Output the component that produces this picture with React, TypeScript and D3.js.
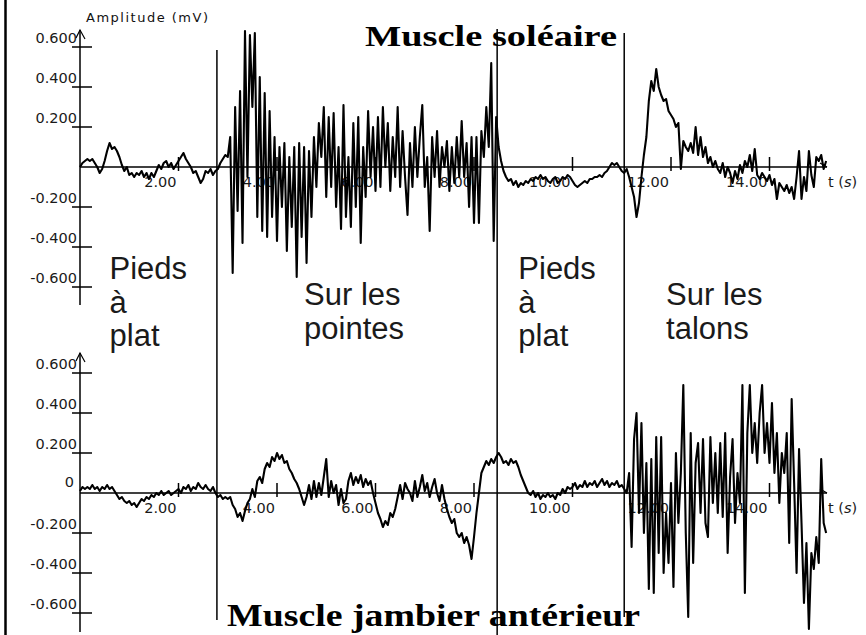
import React from "react";
import * as d3 from "d3";

// sampling step of the recorded EMG traces (s)
const timeStep = 0.05;

// Muscle soléaire (mV), one row per second
const soleaire = [
  0, 0.02, 0.03, 0.04, 0.03, 0.04, 0.02, 0, -0.03, -0.01, 0.03, 0.08, 0.12, 0.09, 0.1, 0.08, 0.05, 0.01, -0.02, 0,
  -0.04, -0.03, -0.05, -0.03, -0.04, -0.02, -0.05, -0.03, -0.06, -0.03, -0.05, -0.02, 0.01, -0.01, 0.02, 0.03, 0, 0.02, -0.01, 0.01,
  0.03, 0.05, 0.07, 0.04, 0.02, 0, -0.03, -0.02, -0.05, -0.08, -0.06, -0.02, -0.03, -0.01, -0.04, -0.02, -0.01, 0.02, 0.04, 0.06,
  0.05, 0.15, -0.53, 0.3, -0.22, 0.38, -0.38, 0.68, -0.05, 0.66, 0.3, 0.67, -0.25, 0.45, -0.32, 0.37, -0.35, 0.28, -0.25, 0.15,
  -0.37, 0.1, -0.2, 0.12, -0.42, 0.05, -0.3, 0.1, -0.55, 0.12, -0.35, 0.1, -0.48, 0.08, -0.25, 0.15, -0.1, 0.22, 0.05, 0.3,
  -0.15, 0.25, -0.1, 0.27, -0.2, 0.1, -0.31, 0.31, -0.25, 0.05, -0.3, 0.22, -0.2, 0.25, -0.38, 0.1, -0.15, 0.28, -0.05, 0.2,
  -0.12, 0.25, -0.1, 0.3, 0, 0.22, -0.12, 0.15, -0.05, 0.3, -0.1, 0.18, -0.05, -0.24, 0.12, -0.1, 0.2, -0.05, 0.15, 0.31,
  -0.1, 0.05, -0.32, 0.15, -0.05, 0.18, -0.1, 0.1, 0, 0.13, -0.12, 0.1, -0.08, 0.15, -0.05, 0.23, -0.05, 0.12, -0.2, 0.15,
  -0.28, 0.15, -0.28, 0.18, 0.05, 0.3, 0.1, 0.52, -0.37, 0.25, 0.1, 0.03, -0.02, -0.05, -0.07, -0.06, -0.09, -0.07, -0.1, -0.08,
  -0.09, -0.07, -0.08, -0.06, -0.07, -0.05, -0.06, -0.04, -0.06, -0.05, -0.07, -0.08, -0.06, -0.05, -0.08, -0.07, -0.05, -0.06, -0.04, -0.05,
  -0.07, -0.09, -0.1, -0.09, -0.08, -0.07, -0.08, -0.06, -0.06, -0.05, -0.05, -0.04, -0.05, -0.03, -0.02, 0, 0.02, 0.01, 0.02, 0,
  -0.02, -0.03, -0.01, -0.05, -0.1, -0.15, -0.25, -0.18, -0.05, 0.06, 0.15, 0.33, 0.43, 0.38, 0.49, 0.4, 0.36, 0.33, 0.34, 0.28,
  0.26, 0.24, 0.2, 0.22, -0.01, 0.13, 0.1, 0.08, 0.12, 0.07, 0.2, 0.06, 0.15, 0.05, 0.1, 0.02, 0.05, 0, 0.03, -0.01,
  -0.03, 0.02, -0.05, 0, -0.03, -0.08, -0.02, -0.06, 0.01, -0.03, 0.03, 0, 0.06, -0.02, 0.09, -0.04, -0.06, -0.03, -0.05, -0.07,
  -0.04, -0.09, -0.06, -0.16, -0.08, -0.1, -0.12, -0.09, -0.13, -0.1, -0.16, -0.05, 0.08, -0.16, -0.05, -0.12, 0.08, -0.04, -0.1, 0.05,
  0.03, 0.06, -0.01, 0.03,
];

// Muscle jambier antérieur (mV)
const jambier = [
  0.01, 0.03, 0.02, 0.03, 0.02, 0.04, 0.02, 0.03, 0.01, 0.03, 0.02, 0.04, 0.02, 0.03, 0.01, -0.01, -0.03, -0.02, -0.04, -0.05,
  -0.04, -0.06, -0.05, -0.07, -0.05, -0.03, -0.04, -0.02, -0.03, -0.01, -0.02, 0, -0.01, 0.01, -0.01, 0, 0.01, -0.01, 0, 0.01,
  0.02, 0, 0.03, 0.02, 0.04, 0.01, 0.03, 0.02, 0.05, 0.03, 0.02, 0.04, 0.02, 0.01, 0.03, 0, -0.02, -0.01, -0.03, -0.02,
  -0.03, -0.02, -0.06, -0.08, -0.12, -0.1, -0.14, -0.09, -0.05, -0.03, 0.02, -0.02, 0.06, 0.08, 0.05, 0.12, 0.15, 0.13, 0.18, 0.16,
  0.2, 0.17, 0.19, 0.15, 0.16, 0.12, 0.1, 0.07, 0.05, 0.02, -0.02, -0.06, -0.02, 0.04, -0.03, 0.06, -0.02, 0.05, -0.01, 0.08,
  0.17, -0.02, 0.06, 0, 0.04, -0.06, 0.02, -0.05, -0.03, 0.06, 0.1, 0.04, 0.08, 0.05, 0.09, 0.03, 0.07, 0.04, 0.06, 0,
  -0.05, -0.1, -0.13, -0.17, -0.14, -0.16, -0.1, -0.12, -0.08, -0.02, 0.04, -0.03, 0.05, 0.02, 0, -0.04, 0.06, -0.02, 0.03, 0.09,
  0.01, 0.05, -0.02, 0.03, 0.07, 0, -0.04, 0.04, -0.03, -0.08, -0.12, -0.15, -0.13, -0.2, -0.22, -0.2, -0.25, -0.22, -0.26, -0.33,
  -0.22, -0.1, 0, 0.1, 0.13, 0.16, 0.14, 0.17, 0.15, 0.18, 0.2, 0.18, 0.15, 0.16, 0.14, 0.17, 0.15, 0.16, 0.13, 0.09,
  0.06, 0.03, 0, -0.01, 0.01, -0.02, 0, -0.03, -0.01, -0.02, 0, -0.02, -0.01, -0.03, 0, -0.01, 0.02, 0, 0.03, 0.02,
  0.03, 0.05, 0.02, 0.04, 0.03, 0.06, 0.03, 0.05, 0.04, 0.06, 0.03, 0.05, 0.07, 0.04, 0.06, 0.03, 0.05, 0.04, 0.06, 0.03,
  0.04, 0.02, 0, 0.1, -0.27, 0.27, 0.4, -0.1, 0.35, -0.2, 0.15, -0.48, 0.17, -0.5, 0.28, -0.3, 0.28, -0.4, -0.1, -0.35,
  0.05, -0.47, 0.2, -0.15, 0.1, 0.54, -0.2, -0.62, 0.3, -0.35, 0.15, 0.25, -0.1, 0.27, -0.15, -0.22, 0.28, -0.05, 0.2, -0.1,
  0.25, -0.12, 0.3, -0.3, 0.08, 0.27, -0.15, 0.1, -0.05, 0.54, -0.5, 0.3, 0.54, 0.2, 0.35, 0.15, 0.4, 0.54, 0.2, 0.35,
  0.15, 0.45, 0.1, 0.3, -0.05, 0.2, 0.1, 0.3, -0.25, 0.47, 0.05, -0.4, 0.22, -0.15, -0.55, -0.25, -0.68, -0.3, -0.38, -0.22,
  -0.35, 0.17, -0.15, -0.2,
];

const yTicks = [0.6, 0.4, 0.2, -0.2, -0.4, -0.6];
const yTickLabels = ["0.600", "0.400", "0.200", "-0.200", "-0.400", "-0.600"];
const xTicks = [2, 4, 6, 8, 10, 12, 14];
const xTickLabels = ["2.00", "4.00", "6.00", "8.00", "10.00", "12.00", "14.00"];
const phaseChanges = [2.78, 8.47, 11.05];
const phaseLabels = [["Pieds", "à", "plat"], ["Sur les", "pointes"], ["Pieds", "à", "plat"], ["Sur les", "talons"]];

const W = 866;
const H = 635;
const tickFont = "'DejaVu Sans', Verdana, sans-serif";
const x = d3.scaleLinear().domain([0, 15.2]).range([80, 828.6]);

interface PanelProps {
  data: number[];
  y: d3.ScaleLinear<number, number>;
  axisTop: number;
  axisBottom: number;
  showZero: boolean;
}

function Panel({data, y, axisTop, axisBottom, showZero}: PanelProps) {
  const x0 = x(0);
  const zero = y(0);
  const line = d3.line<number>()
    .x((_, i) => x(i * timeStep))
    .y(d => y(d));
  const yTopPx = y(axisTop);
  const xEnd = 827;
  return (
    <g>
      {/* y axis */}
      <line x1={x0} x2={x0} y1={yTopPx} y2={y(axisBottom)} stroke="#000" strokeWidth={1.5}/>
      <path d={`M${x0 - 4},${yTopPx + 8}L${x0},${yTopPx}L${x0 + 5},${yTopPx + 9}`} fill="none" stroke="#000" strokeWidth={1.2}/>
      {yTicks.map((v, i) => (
        <g key={i}>
          <line x1={x0 - 8} x2={x0 + 12} y1={y(v)} y2={y(v)} stroke="#000" strokeWidth={1.5}/>
          <text x={77} y={y(v) - 4} textAnchor="end" fontFamily={tickFont} fontSize={14.5} fill="#1a1a1a">{yTickLabels[i]}</text>
        </g>
      ))}
      {showZero && <text x={74} y={zero - 6} textAnchor="end" fontFamily={tickFont} fontSize={14.5} fill="#1a1a1a">0</text>}
      {/* x axis */}
      <line x1={x0} x2={xEnd} y1={zero} y2={zero} stroke="#000" strokeWidth={1.5}/>
      <path d={`M${xEnd - 7},${zero - 4}L${xEnd},${zero}`} fill="none" stroke="#000" strokeWidth={1.2}/>
      {xTicks.map((t, i) => (
        <g key={i}>
          <line x1={x(t)} x2={x(t)} y1={zero - 10} y2={zero + 4} stroke="#000" strokeWidth={1.5}/>
          <text x={x(t) - 2} y={zero + 20} textAnchor="end" fontFamily={tickFont} fontSize={14.5} fill="#1a1a1a">{xTickLabels[i]}</text>
        </g>
      ))}
      <text x={828} y={zero + 20} fontFamily={tickFont} fontSize={14.5} fill="#1a1a1a">t (<tspan fontStyle="italic">s</tspan>)</text>
      {/* signal */}
      <path d={line(data) ?? ""} fill="none" stroke="#000" strokeWidth={2.1} strokeLinejoin="round"/>
    </g>
  );
}

export default function App() {
  const yTop = d3.scaleLinear().domain([-0.6, 0.6]).range([287, 47]);
  const yBottom = d3.scaleLinear().domain([-0.6, 0.6]).range([613, 373]);

  const eventExtents = [[50, 620], [29, 635], [33, 617]];
  const labelTimes = [0.6, 4.55, 8.9, 11.9];
  const labelFont = "'Liberation Sans', Arial, sans-serif";

  return (
    <svg width={W} height={H} style={{position: "absolute", left: 0, top: 0, background: "#fff"}}>
      <rect x={0} y={0} width={W} height={H} fill="#fff"/>
      <line x1={5.5} x2={5.5} y1={0} y2={H} stroke="#000" strokeWidth={2.5}/>

      <text x={86} y={22} fontFamily={tickFont} fontSize={13} fill="#111" textLength={122} lengthAdjust="spacing">Amplitude (mV)</text>

      <Panel data={soleaire} y={yTop} axisTop={0.685} axisBottom={-0.69} showZero={false}/>
      <Panel data={jambier} y={yBottom} axisTop={0.7} axisBottom={-0.695} showZero={true}/>

      {phaseLabels.map((lines, i) => {
        const first = lines.length === 3 ? 279 : 305;
        const step = lines.length === 3 ? 33.5 : 34;
        return (
          <text key={i} fontFamily={labelFont} fontSize={31} fill="#1a1a1a">
            {lines.map((s, j) => (
              <tspan key={j} x={x(labelTimes[i])} y={first + j * step}>{s}</tspan>
            ))}
          </text>
        );
      })}

      <text x={365} y={46} fontFamily="'Liberation Serif', 'Times New Roman', serif" fontWeight="bold" fontSize={30}
            textLength={252} lengthAdjust="spacingAndGlyphs" fill="#000">Muscle soléaire</text>
      <text x={227} y={626} fontFamily="'Liberation Serif', 'Times New Roman', serif" fontWeight="bold" fontSize={31}
            textLength={413} lengthAdjust="spacingAndGlyphs" fill="#000">Muscle jambier antérieur</text>

      {phaseChanges.map((t, i) => (
        <line key={i} x1={x(t)} x2={x(t)} y1={eventExtents[i][0]} y2={eventExtents[i][1]} stroke="#000" strokeWidth={1.5}/>
      ))}
    </svg>
  );
}
